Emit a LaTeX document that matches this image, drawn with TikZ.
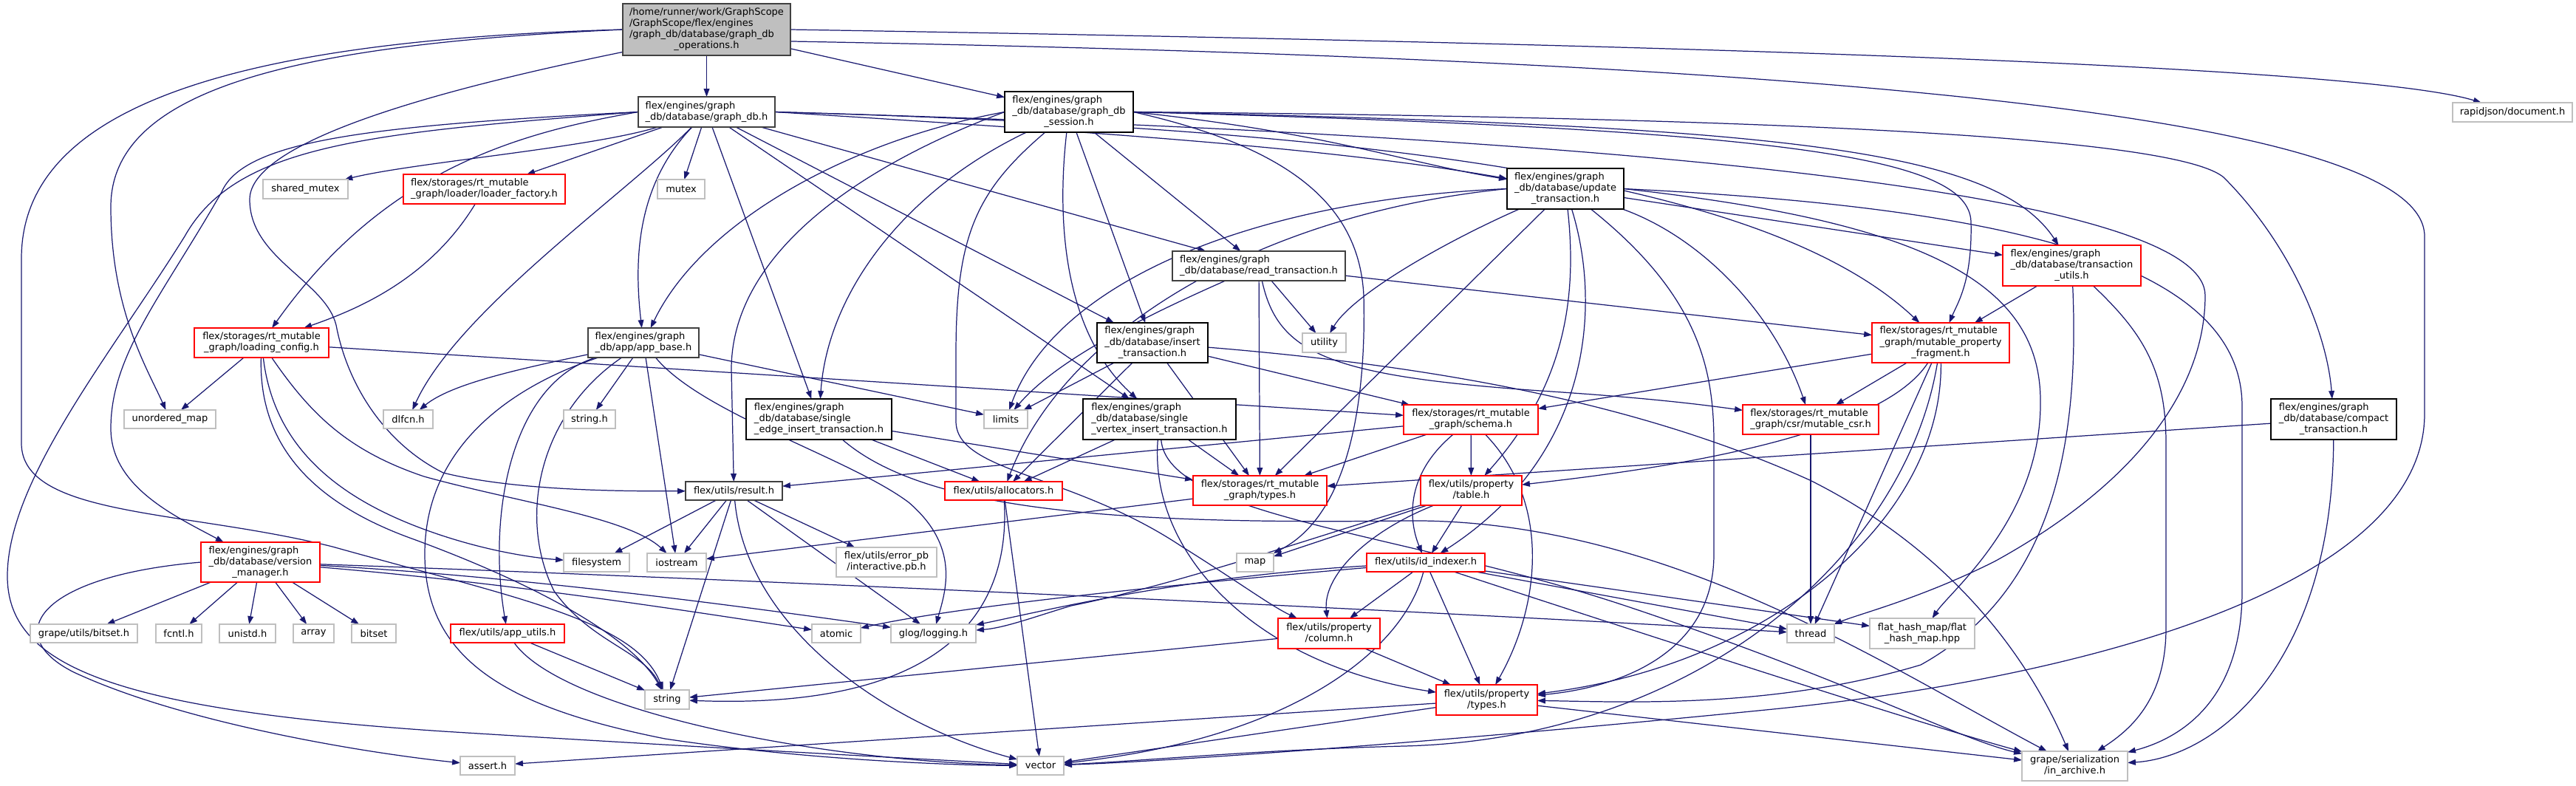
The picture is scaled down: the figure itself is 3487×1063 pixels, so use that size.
\documentclass[tikz,border=0pt]{standalone}
\usepackage{fontspec}
\setmainfont{DejaVu Sans}
\usetikzlibrary{arrows.meta,backgrounds}
\definecolor{edgec}{HTML}{191970}
\definecolor{lgray}{HTML}{BFBFBF}
\definecolor{dgray}{HTML}{404040}
\definecolor{rbord}{HTML}{FF0000}
\newcommand\nf{\fontsize{3.7pt}{4.27pt}\selectfont}
\newcommand\ml[2]{\begin{tabular}{@{}l@{}}#1\\\multicolumn{1}{@{}c@{}}{#2}\end{tabular}}
\newcommand\nd[7]{\node[#6,minimum width={(#4-#2)*0.01cm},minimum height={(#5-#3)*0.01cm}] (#1) at ({(#2+#4)/2},{(#3+#5)/2}) {#7};}
\tikzset{
 base/.style={rectangle,inner sep=0pt,outer sep=0pt,font=\nf,line width=0.4pt,fill=white},
 gbox/.style={base,draw=lgray},
 rbox/.style={base,draw=rbord},
 bbox/.style={base,draw=black},
 dbox/.style={base,draw=dgray},
 rootbox/.style={base,draw=dgray,fill=lgray},
 edge/.style={draw=edgec,line width=0.35pt,-{Triangle[length=3.1pt,width=2.2pt]}}
}
\begin{document}
\begin{tikzpicture}[x=0.01cm,y=-0.01cm]
\useasboundingbox (0,0) rectangle (3487,1063);
% nodes
\nd{R}{843}{5}{1070}{75}{rootbox}{\ml{/home/runner/work/GraphScope\\/GraphScope/flex/engines\\/graph\_db/database/graph\_db}{\_operations.h}}
\nd{gdb}{864}{131}{1049}{172}{dbox}{\ml{flex/engines/graph}{\_db/database/graph\_db.h}}
\nd{sess}{1360}{124}{1534}{179}{bbox}{\ml{flex/engines/graph\\\_db/database/graph\_db}{\_session.h}}
\nd{rapid}{3320}{139}{3482}{165}{gbox}{rapidjson/document.h}
\nd{shmutex}{356}{243}{471}{269}{gbox}{shared\_mutex}
\nd{loaderf}{546}{236}{765}{276}{rbox}{\ml{flex/storages/rt\_mutable}{\_graph/loader/loader\_factory.h}}
\nd{mutex}{890}{243}{954}{269}{gbox}{mutex}
\nd{updatetx}{2040}{228}{2198}{283}{bbox}{\ml{flex/engines/graph\\\_db/database/update}{\_transaction.h}}
\nd{readtx}{1587}{340}{1821}{380}{dbox}{\ml{flex/engines/graph}{\_db/database/read\_transaction.h}}
\nd{transutils}{2711}{332}{2898}{387}{rbox}{\ml{flex/engines/graph\\\_db/database/transaction}{\_utils.h}}
\nd{inserttx}{1485}{437}{1635}{491}{bbox}{\ml{flex/engines/graph\\\_db/database/insert}{\_transaction.h}}
\nd{appbase}{796}{444}{946}{484}{dbox}{\ml{flex/engines/graph}{\_db/app/app\_base.h}}
\nd{loadcfg}{263}{444}{445}{484}{rbox}{\ml{flex/storages/rt\_mutable}{\_graph/loading\_config.h}}
\nd{utility}{1763}{451}{1822}{477}{gbox}{utility}
\nd{mpf}{2534}{437}{2720}{491}{rbox}{\ml{flex/storages/rt\_mutable\\\_graph/mutable\_property}{\_fragment.h}}
\nd{sedge}{1010}{540}{1207}{595}{bbox}{\ml{flex/engines/graph\\\_db/database/single}{\_edge\_insert\_transaction.h}}
\nd{svertex}{1466}{540}{1673}{595}{bbox}{\ml{flex/engines/graph\\\_db/database/single}{\_vertex\_insert\_transaction.h}}
\nd{compact}{3074}{540}{3244}{595}{bbox}{\ml{flex/engines/graph\\\_db/database/compact}{\_transaction.h}}
\nd{schema}{1900}{548}{2082}{588}{rbox}{\ml{flex/storages/rt\_mutable}{\_graph/schema.h}}
\nd{mutablecsr}{2359}{548}{2543}{588}{rbox}{\ml{flex/storages/rt\_mutable}{\_graph/csr/mutable\_csr.h}}
\nd{umap}{168}{555}{292}{580}{gbox}{unordered\_map}
\nd{dlfcn}{519}{555}{586}{580}{gbox}{dlfcn.h}
\nd{stringh}{763}{555}{833}{580}{gbox}{string.h}
\nd{limits}{1332}{555}{1391}{580}{gbox}{limits}
\nd{result}{928}{652}{1059}{677}{dbox}{flex/utils/result.h}
\nd{allocators}{1279}{652}{1438}{677}{rbox}{flex/utils/allocators.h}
\nd{rttypes}{1615}{644}{1796}{684}{rbox}{\ml{flex/storages/rt\_mutable}{\_graph/types.h}}
\nd{table}{1923}{644}{2060}{684}{rbox}{\ml{flex/utils/property}{/table.h}}
\nd{vermgr}{272}{734}{433}{788}{rbox}{\ml{flex/engines/graph\\\_db/database/version}{\_manager.h}}
\nd{filesystem}{763}{749}{852}{774}{gbox}{filesystem}
\nd{iostream}{876}{749}{956}{774}{gbox}{iostream}
\nd{errpb}{1132}{741}{1268}{781}{gbox}{\ml{flex/utils/error\_pb}{/interactive.pb.h}}
\nd{map}{1674}{749}{1724}{774}{gbox}{map}
\nd{idindexer}{1850}{749}{2010}{774}{rbox}{flex/utils/id\_indexer.h}
\nd{column}{1730}{837}{1868}{878}{rbox}{\ml{flex/utils/property}{/column.h}}
\nd{flathash}{2531}{837}{2673}{878}{gbox}{\ml{flat\_hash\_map/flat}{\_hash\_map.hpp}}
\nd{bitsetg}{41}{845}{186}{870}{gbox}{grape/utils/bitset.h}
\nd{fcntl}{211}{845}{273}{870}{gbox}{fcntl.h}
\nd{unistd}{297}{845}{373}{870}{gbox}{unistd.h}
\nd{array}{397}{845}{452}{870}{gbox}{array}
\nd{bitset}{476}{845}{536}{870}{gbox}{bitset}
\nd{apputils}{610}{845}{764}{870}{rbox}{flex/utils/app\_utils.h}
\nd{atomic}{1099}{845}{1165}{870}{gbox}{atomic}
\nd{glog}{1206}{845}{1321}{870}{gbox}{glog/logging.h}
\nd{thread}{2419}{845}{2483}{870}{gbox}{thread}
\nd{string}{873}{934}{933}{960}{gbox}{string}
\nd{ptypes}{1944}{927}{2081}{968}{rbox}{\ml{flex/utils/property}{/types.h}}
\nd{assert}{623}{1024}{697}{1049}{gbox}{assert.h}
\nd{vector}{1377}{1024}{1440}{1049}{gbox}{vector}
\nd{inarchive}{2737}{1017}{2880}{1057}{gbox}{\ml{grape/serialization}{/in\_archive.h}}
% edges
\begin{scope}[on background layer]
% root
\draw[edge] (R) -- (gdb);
\draw[edge] (R) -- (sess);
\draw[edge] (R.east) .. controls (2300,60) and (3200,90) .. (rapid);
\draw[edge] (R.-8) .. controls (2400,80) and (3282,150) .. (3282,320) -- (3282,560) .. controls (3282,800) and (2800,920) .. (2400,960) .. controls (2000,1000) and (1600,1030) .. (vector);
\draw[edge] (R.west) .. controls (400,60) and (150,120) .. (150,280) .. controls (150,420) and (200,500) .. (umap);
\draw[edge] (R.west) .. controls (300,55) and (29,150) .. (29,350) -- (29,600) .. controls (29,700) and (250,690) .. (450,740) .. controls (700,810) and (860,840) .. (string);
\draw[edge] (R.195) .. controls (600,120) and (338,190) .. (338,270) .. controls (338,350) and (440,380) .. (455,440) .. controls (470,520) and (520,600) .. (600,640) .. controls (700,665) and (850,665) .. (result);
% graph_db.h
\draw[edge] (gdb) -- (mutex);
\draw[edge] (gdb) -- (loaderf);
\draw[edge] (gdb) .. controls (800,200) and (560,220) .. (shmutex);
\draw[edge] (gdb.west) .. controls (700,180) and (520,230) .. (loadcfg);
\draw[edge] (gdb.west) .. controls (500,170) and (330,190) .. (300,260) .. controls (220,400) and (150,480) .. (150,580) .. controls (150,660) and (240,700) .. (vermgr);
\draw[edge] (gdb.west) .. controls (500,180) and (320,195) .. (250,320) .. controls (150,480) and (10,650) .. (10,780) .. controls (10,900) and (150,960) .. (600,990) .. controls (1000,1015) and (1300,1030) .. (vector);
\draw[edge] (gdb) .. controls (850,260) and (620,420) .. (dlfcn);
\draw[edge] (gdb) .. controls (862,250) and (858,350) .. (appbase);
\draw[edge] (gdb) -- (sedge);
\draw[edge] (gdb) -- (svertex);
\draw[edge] (gdb) -- (inserttx);
\draw[edge] (gdb) -- (readtx);
\draw[edge] (gdb.east) .. controls (1500,180) and (1800,200) .. (updatetx);
\draw[edge] (gdb.east) .. controls (1900,175) and (2400,250) .. (mpf);
\draw[edge] (gdb.east) .. controls (2400,190) and (2985,280) .. (2985,400) .. controls (2985,520) and (2900,650) .. (2700,760) .. controls (2600,810) and (2520,830) .. (thread);
% session
\draw[edge] (sess.west) .. controls (1150,190) and (950,300) .. (appbase);
\draw[edge] (sess) .. controls (1220,260) and (1120,400) .. (sedge);
\draw[edge] (sess.west) .. controls (1150,230) and (990,350) .. (990,500) -- (result);
\draw[edge] (sess) .. controls (1430,300) and (1440,450) .. (svertex);
\draw[edge] (sess) -- (inserttx);
\draw[edge] (sess) -- (readtx);
\draw[edge] (sess.east) .. controls (1800,180) and (1900,220) .. (updatetx);
\draw[edge] (sess.east) .. controls (2500,160) and (2950,190) .. (3010,240) .. controls (3100,330) and (3150,450) .. (compact);
\draw[edge] (sess.east) .. controls (2400,170) and (2700,200) .. (transutils);
\draw[edge] (sess.east) .. controls (2400,175) and (2665,210) .. (2668,300) .. controls (2670,380) and (2650,410) .. (mpf);
\draw[edge] (sess.east) .. controls (1750,200) and (1840,280) .. (1846,400) .. controls (1850,560) and (1820,700) .. (map);
\draw[edge] (sess) .. controls (1320,260) and (1294,320) .. (1294,480) -- (1294,570) .. controls (1294,640) and (1450,640) .. (1600,740) .. controls (1680,790) and (1720,820) .. (column);
% app_base
\draw[edge] (appbase) .. controls (700,500) and (610,520) .. (dlfcn);
\draw[edge] (appbase) -- (stringh);
\draw[edge] (appbase) -- (limits);
\draw[edge] (appbase) -- (iostream);
\draw[edge] (appbase) .. controls (950,560) and (1150,620) .. (1230,680) .. controls (1300,740) and (1280,800) .. (glog);
\draw[edge] (appbase) .. controls (690,520) and (660,700) .. (apputils);
\draw[edge] (appbase) .. controls (700,520) and (575,600) .. (575,750) .. controls (575,900) and (700,960) .. (900,1000) .. controls (1100,1030) and (1300,1036) .. (vector);
\draw[edge] (appbase) .. controls (730,560) and (700,700) .. (750,800) .. controls (800,870) and (870,880) .. (string);
\draw[edge] (apputils) -- (string);
\draw[edge] (apputils) .. controls (760,960) and (1100,1030) .. (vector);
% loading
\draw[edge] (loaderf) .. controls (580,380) and (480,420) .. (loadcfg);
\draw[edge] (loadcfg) -- (umap);
\draw[edge] (loadcfg) .. controls (350,600) and (420,680) .. (560,730) .. controls (750,800) and (860,870) .. (string);
\draw[edge] (loadcfg) .. controls (370,600) and (450,670) .. (570,715) .. controls (650,745) and (720,755) .. (filesystem);
\draw[edge] (loadcfg) .. controls (420,560) and (470,610) .. (574,645) .. controls (700,680) and (850,700) .. (iostream);
\draw[edge] (loadcfg) -- (schema);
% version manager
\draw[edge] (vermgr) -- (bitsetg);
\draw[edge] (vermgr) -- (fcntl);
\draw[edge] (vermgr) -- (unistd);
\draw[edge] (vermgr) -- (array);
\draw[edge] (vermgr) -- (bitset);
\draw[edge] (vermgr.west) .. controls (50,780) and (0,860) .. (100,910) .. controls (250,980) and (500,1020) .. (assert);
\draw[edge] (vermgr) .. controls (700,790) and (950,830) .. (atomic);
\draw[edge] (vermgr) .. controls (700,780) and (1000,820) .. (glog);
\draw[edge] (vermgr) .. controls (900,780) and (1800,820) .. (thread);
% result
\draw[edge] (result) -- (iostream);
\draw[edge] (result) -- (filesystem);
\draw[edge] (result) -- (string);
\draw[edge] (result) -- (glog);
\draw[edge] (result) -- (errpb);
\draw[edge] (result) .. controls (1010,850) and (1200,980) .. (vector);
% allocators
\draw[edge] (allocators) .. controls (1370,850) and (1250,960) .. (string);
\draw[edge] (allocators) -- (vector);
% single edge / vertex
\draw[edge] (sedge) -- (allocators);
\draw[edge] (sedge) -- (rttypes);
\draw[edge] (sedge) .. controls (1250,690) and (1500,710) .. (1900,705) .. controls (2250,700) and (2550,900) .. (inarchive);
\draw[edge] (svertex) -- (allocators);
\draw[edge] (svertex) -- (rttypes);
\draw[edge] (svertex) .. controls (1555,750) and (1700,900) .. (ptypes);
\draw[edge] (svertex) .. controls (1580,700) and (1900,720) .. (2200,820) .. controls (2500,920) and (2650,1000) .. (inarchive);
% insert
\draw[edge] (inserttx) -- (limits);
\draw[edge] (inserttx) -- (allocators);
\draw[edge] (inserttx) -- (rttypes);
\draw[edge] (inserttx) -- (schema);
\draw[edge] (inserttx) .. controls (2000,500) and (2250,560) .. (2450,650) .. controls (2650,750) and (2750,900) .. (inarchive);
% read
\draw[edge] (readtx) -- (utility);
\draw[edge] (readtx) .. controls (1500,450) and (1420,500) .. (limits);
\draw[edge] (readtx) -- (mpf);
\draw[edge] (readtx) -- (rttypes);
\draw[edge] (readtx) .. controls (1730,480) and (1800,510) .. (2100,530) .. controls (2250,540) and (2320,550) .. (mutablecsr);
% update
\draw[edge] (updatetx) .. controls (1950,330) and (1830,400) .. (utility);
\draw[edge] (updatetx.west) .. controls (1700,270) and (1430,380) .. (limits);
\draw[edge] (updatetx.west) .. controls (1700,290) and (1440,450) .. (allocators);
\draw[edge] (updatetx) -- (rttypes);
\draw[edge] (updatetx) -- (transutils);
\draw[edge] (updatetx) .. controls (2300,320) and (2400,420) .. (mutablecsr);
\draw[edge] (updatetx) .. controls (2135,400) and (2120,520) .. (table);
\draw[edge] (updatetx) .. controls (2170,420) and (2150,620) .. (idindexer);
\draw[edge] (updatetx) .. controls (2300,400) and (2320,500) .. (2320,600) -- (2320,750) .. controls (2320,880) and (2200,930) .. (ptypes);
\draw[edge] (updatetx.east) .. controls (2700,280) and (3035,350) .. (3035,550) -- (3035,800) .. controls (3035,950) and (2950,1000) .. (inarchive);
\draw[edge] (updatetx.east) .. controls (2600,300) and (2760,380) .. (2762,540) .. controls (2765,700) and (2640,800) .. (flathash);
% transaction utils
\draw[edge] (transutils) -- (mpf);
\draw[edge] (transutils) .. controls (2815,600) and (2780,800) .. (2600,900) .. controls (2400,960) and (2200,950) .. (ptypes);
\draw[edge] (transutils) .. controls (2900,450) and (2932,500) .. (2932,600) -- (2932,850) .. controls (2932,950) and (2880,990) .. (inarchive);
% mutable property fragment
\draw[edge] (mpf) -- (schema);
\draw[edge] (mpf) -- (mutablecsr);
\draw[edge] (mpf) .. controls (2540,600) and (2200,640) .. (table);
\draw[edge] (mpf) -- (thread);
\draw[edge] (mpf) .. controls (2630,700) and (2400,900) .. (ptypes);
\draw[edge] (mpf) .. controls (2580,750) and (2300,1000) .. (1900,1010) .. controls (1700,1015) and (1550,1030) .. (vector);
% schema
\draw[edge] (schema) -- (result);
\draw[edge] (schema) -- (rttypes);
\draw[edge] (schema) -- (table);
\draw[edge] (schema) .. controls (1905,640) and (1905,700) .. (idindexer);
\draw[edge] (schema) .. controls (2100,680) and (2085,820) .. (ptypes);
% table
\draw[edge] (table) -- (map);
\draw[edge] (table) .. controls (1850,720) and (1790,780) .. (column);
\draw[edge] (table) -- (idindexer);
\draw[edge] (table) .. controls (1800,720) and (1600,790) .. (1450,820) .. controls (1400,835) and (1360,850) .. (glog);
% id indexer
\draw[edge] (idindexer) .. controls (1600,790) and (1300,820) .. (atomic);
\draw[edge] (idindexer) .. controls (1600,780) and (1400,830) .. (glog);
\draw[edge] (idindexer) -- (column);
\draw[edge] (idindexer) -- (ptypes);
\draw[edge] (idindexer) .. controls (1900,880) and (1750,1000) .. (vector);
\draw[edge] (idindexer) .. controls (2200,850) and (2600,980) .. (inarchive);
\draw[edge] (idindexer) -- (thread);
\draw[edge] (idindexer) -- (flathash);
% column
\draw[edge] (column) -- (string);
\draw[edge] (column) -- (ptypes);
% property types
\draw[edge] (ptypes) -- (assert);
\draw[edge] (ptypes) -- (vector);
\draw[edge] (ptypes) -- (inarchive);
% compact
\draw[edge] (compact) -- (rttypes);
\draw[edge] (compact) .. controls (3157,900) and (3000,1025) .. (inarchive);
% misc
\draw[edge] (mutablecsr) -- (thread);
\draw[edge] (rttypes) -- (iostream);
\end{scope}
\end{tikzpicture}
\end{document}
